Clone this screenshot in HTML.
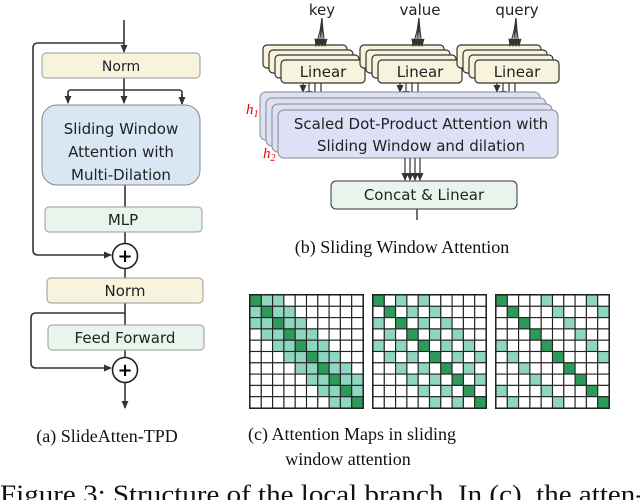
<!DOCTYPE html>
<html><head><meta charset="utf-8"><style>
html,body{margin:0;padding:0;background:#fff;}
svg{display:block;}
.s{font-family:"DejaVu Sans","Liberation Sans",sans-serif;fill:#222;}
.t{font-family:"Liberation Serif",serif;fill:#111;}
</style></head><body>
<svg id="g" width="640" height="500" viewBox="0 0 640 500" xmlns="http://www.w3.org/2000/svg">
<defs><marker id="a" markerWidth="8" markerHeight="8" refX="7" refY="4" orient="auto" markerUnits="userSpaceOnUse"><path d="M0,0.5 L8,4 L0,7.5 z" fill="#333"/></marker></defs>
<g stroke="#333" stroke-width="1.6" fill="none">
<path d="M124,20 V52" marker-end="url(#a)"/>
<path d="M124,43 H38 Q33,43 33,48 V250 Q33,255 38,255 H111" marker-end="url(#a)"/>
<path d="M124,78 V103" marker-end="url(#a)"/>
<path d="M68,100 V93 Q68,90 71,90 H179 Q182,90 182,93 V104" />
<path d="M68,94 V103" marker-end="url(#a)"/>
<path d="M182,94 V104" marker-end="url(#a)"/>
<path d="M125,185 V207 M125,232 V243 M125,269 V278 M125,303 V325 M125,350 V357"/>
<path d="M125,313 H36 Q31,313 31,318 V363 Q31,368 36,368 H111" marker-end="url(#a)"/>
<path d="M125,383 V408" marker-end="url(#a)"/>
</g>
<rect x="42" y="53" width="158" height="25" rx="4" fill="#f8f3dc" stroke="#999"/>
<text class="s" x="121" y="71" font-size="14" text-anchor="middle">Norm</text>
<rect x="42" y="105" width="158" height="80" rx="15" fill="#d9e7f4" stroke="#888"/>
<text class="s" x="121" y="134" font-size="15" text-anchor="middle">Sliding Window</text>
<text class="s" x="121" y="157" font-size="15" text-anchor="middle">Attention with</text>
<text class="s" x="121" y="180" font-size="15" text-anchor="middle">Multi-Dilation</text>
<rect x="45" y="207" width="157" height="25" rx="4" fill="#e8f5ec" stroke="#999"/>
<text class="s" x="123" y="225" font-size="15" text-anchor="middle">MLP</text>
<circle cx="125" cy="256" r="12.5" fill="#fff" stroke="#222" stroke-width="1.6"/>
<text x="125" y="262" font-size="18" font-weight="bold" text-anchor="middle" font-family="DejaVu Sans">+</text>
<rect x="47" y="278" width="156" height="25" rx="4" fill="#f8f3dc" stroke="#999"/>
<text class="s" x="125" y="296" font-size="15" text-anchor="middle">Norm</text>
<rect x="48" y="325" width="156" height="25" rx="4" fill="#e8f5ec" stroke="#999"/>
<text class="s" x="125" y="343" font-size="15" text-anchor="middle">Feed Forward</text>
<circle cx="125" cy="370" r="12.5" fill="#fff" stroke="#222" stroke-width="1.6"/>
<text x="125" y="376" font-size="18" font-weight="bold" text-anchor="middle" font-family="DejaVu Sans">+</text>

<text class="s" x="322" y="15" font-size="15" text-anchor="middle">key</text>
<text class="s" x="420" y="15" font-size="15" text-anchor="middle">value</text>
<text class="s" x="517" y="15" font-size="15" text-anchor="middle">query</text>
<g id="lin"></g>
<g id="att"></g>
<rect x="331" y="181" width="186" height="28" rx="5" fill="#e8f5ec" stroke="#333"/>
<text class="s" x="424" y="200" font-size="15" text-anchor="middle">Concat &amp; Linear</text>
<path d="M417,209 V220" stroke="#333" stroke-width="1.4"/>
<text x="246" y="114" font-size="15" font-style="italic" fill="#e00" font-family="Liberation Serif">h<tspan font-size="10" dy="3">1</tspan></text>
<text x="263" y="158" font-size="15" font-style="italic" fill="#e00" font-family="Liberation Serif">h<tspan font-size="10" dy="3">2</tspan></text>
<text class="t" x="402" y="253" font-size="18" text-anchor="middle">(b) Sliding Window Attention</text>
<g id="mats"></g>
<text class="t" x="107" y="442" font-size="18" text-anchor="middle">(a) SlideAtten-TPD</text>
<text class="t" x="352" y="440" font-size="18" text-anchor="middle">(c) Attention Maps in sliding</text>
<text class="t" x="348" y="465" font-size="18" text-anchor="middle">window attention</text>
<text class="t" x="0" y="503" font-size="26" textLength="645" lengthAdjust="spacingAndGlyphs">Figure 3:  Structure of the local branch.  In (c), the atten-</text>
</svg>
<script>
var NS="http://www.w3.org/2000/svg";
function el(p,t,a,txt){var e=document.createElementNS(NS,t);for(var k in a)e.setAttribute(k,a[k]);if(txt)e.textContent=txt;p.appendChild(e);return e;}
var lin=document.getElementById('lin');
[281,378,475].forEach(function(x,idx){
 for(var i=3;i>=0;i--){el(lin,'rect',{x:x-6*i,y:60-5*i,width:84,height:23,rx:4,fill:'#f8f3dc',stroke:'#333','stroke-width':1.2});}
 el(lin,'text',{'class':'s',x:x+42,y:77,'font-size':15,'text-anchor':'middle'},'Linear');
 var cx=x+41;
 [[-6,0],[-3,1],[0,2],[3,3]].forEach(function(d){el(lin,'path',{d:'M'+cx+',18 L'+(cx+d[0]*0.3)+',30 L'+(cx+d[0])+',46',stroke:'#333','stroke-width':1.1,fill:'none','marker-end':'url(#a)'});});
 for(var j=0;j<4;j++){var ax=x+22+j*6;el(lin,'path',{d:'M'+ax+',83 V'+(92+j*6),stroke:'#333','stroke-width':1.2,'marker-end':'url(#a)'});}
});
var att=document.getElementById('att');
for(var i=3;i>=0;i--){el(att,'rect',{x:278-6*i,y:110-6*i,width:280,height:48,rx:6,fill:'#dde1f5',stroke:'#888','stroke-width':1});}
el(att,'text',{'class':'s',x:421,y:129,'font-size':15,'text-anchor':'middle'},'Scaled Dot-Product Attention with');
el(att,'text',{'class':'s',x:421,y:151,'font-size':15,'text-anchor':'middle'},'Sliding Window and dilation');
for(var j=0;j<4;j++){var ax=405+j*5;el(att,'path',{d:'M'+ax+',158 V180',stroke:'#333','stroke-width':1.2,'marker-end':'url(#a)'});}
var m=document.getElementById('mats');
[[250,1],[373,2],[496,4]].forEach(function(c){
 var x0=c[0],y0=295,d=c[1],cs=11.3;
 el(m,'rect',{x:x0,y:y0,width:cs*10,height:cs*10,fill:'#fff',stroke:'#222','stroke-width':2});
 for(var r=0;r<10;r++)for(var q=0;q<10;q++){
  var k=Math.abs(r-q),f='#fff';
  if(k==0)f='#2e9a5a';else if(k%d==0&&k/d<=2)f='#8fd6c0';
  el(m,'rect',{x:x0+q*cs,y:y0+r*cs,width:cs,height:cs,fill:f,stroke:'#222','stroke-width':1.1});
 }
});
</script>
</body></html>
